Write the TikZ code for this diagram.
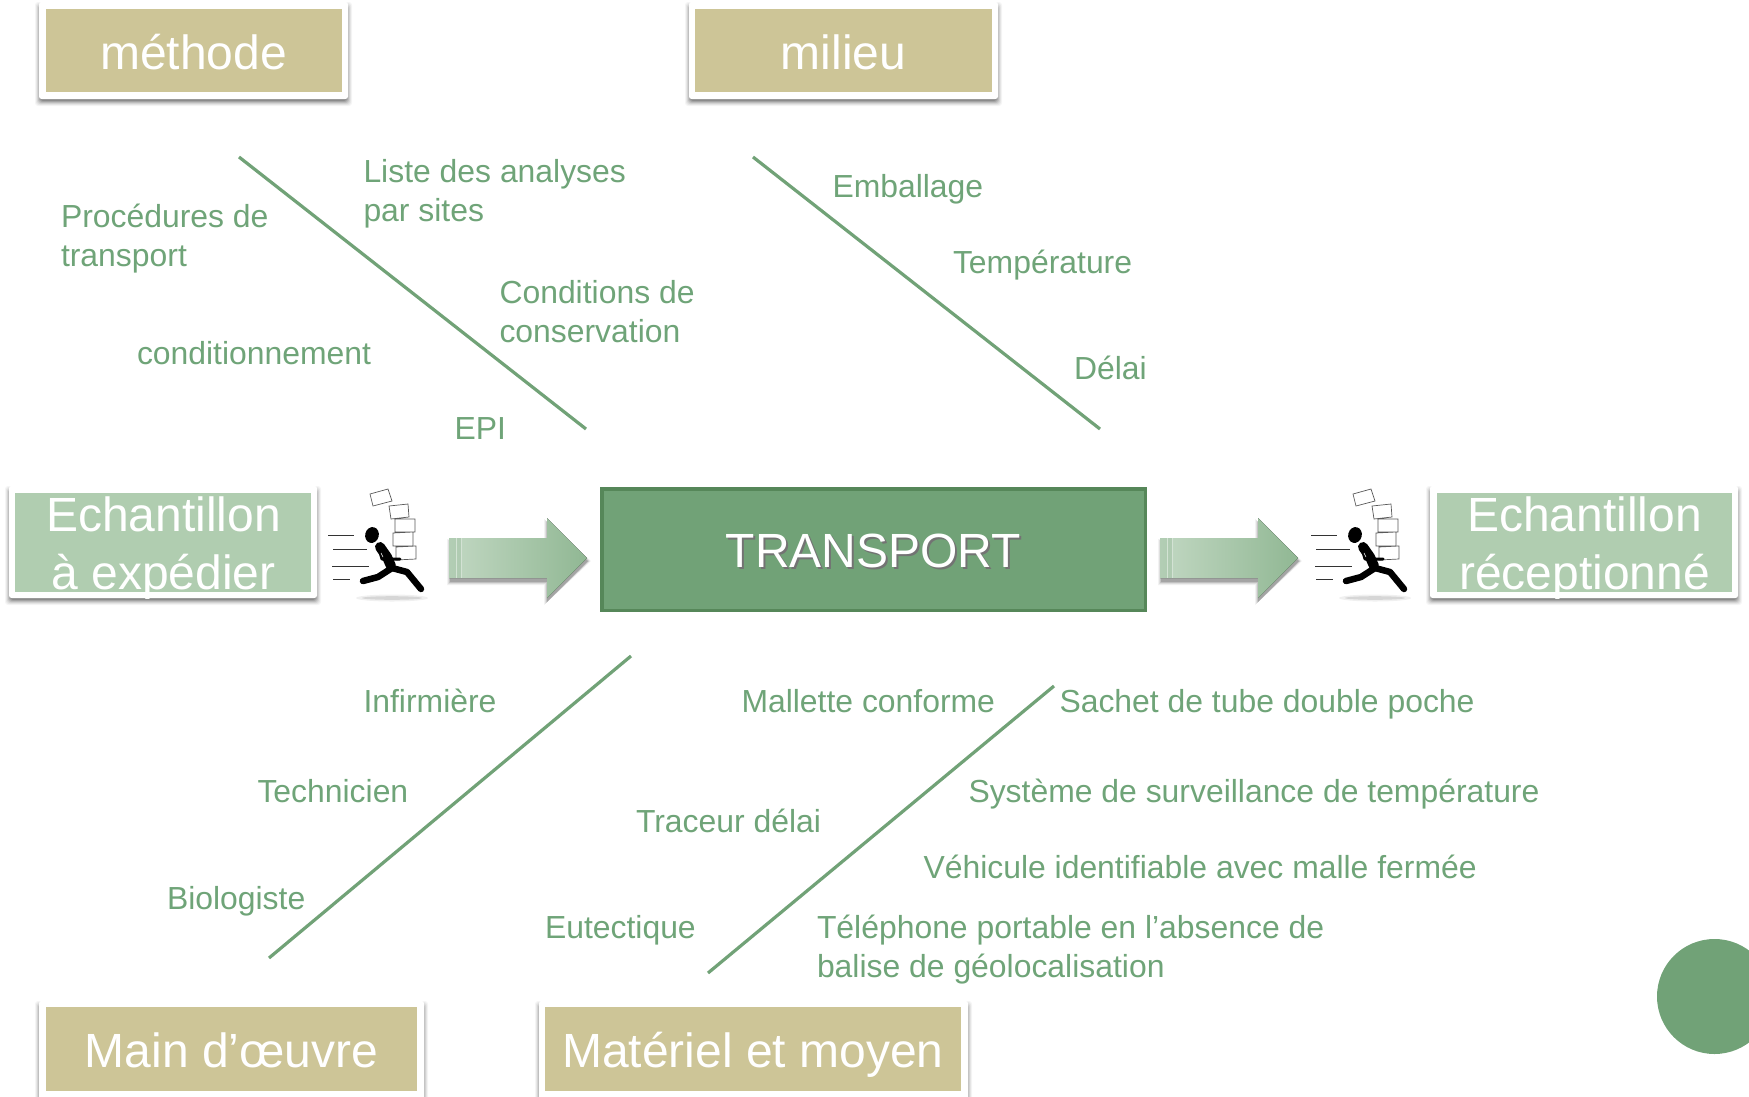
\documentclass[tikz,border=0pt]{standalone}
\usepackage{fontspec}
\setmainfont{Liberation Sans}
\definecolor{khaki}{HTML}{CDC597}
\definecolor{lgreen}{HTML}{B0CDB0}
\definecolor{mgreen}{HTML}{71A277}
\definecolor{dgreen}{HTML}{568759}
\definecolor{txtg}{HTML}{6FA478}
\newcommand\softbox[4]{%
  \foreach \d/\o in {5/.04,4/.06,3/.08,2/.1,1/.13,0/.16}{%
    \fill[black,opacity=\o,rounded corners=3pt] ({#1+1-\d},{#2+5-\d}) rectangle ({#3-1+\d},{#4+2+\d});
  }%
  \fill[white,rounded corners=2.5pt] (#1,#2) rectangle (#3,#4);
}
\tikzset{
  every node/.style={inner sep=0pt,outer sep=0pt},
  bone/.style={draw=mgreen,line width=3.2pt},
  lbl/.style={text=txtg,font=\fontsize{31.9}{39}\selectfont,anchor=base west,align=left},
  big/.style={text=white,font=\fontsize{48}{58}\selectfont,align=center},
  khakibox/.style={fill=khaki,big,text height=38pt,text depth=0pt},
  pk/.pic={
    \fill[black!6] (72,118) ellipse (36 and 3.5);
    \fill[black!16] (72,118) ellipse (30 and 1.8);
    \draw[black!65,line width=.7pt,fill=white]
      (50,14)--(68,9)--(72,21)--(53,26)--cycle
      (69,26)--(88,24)--(89,37)--(71,39)--cycle
      (75,39)--(95,39)--(95,52)--(75,52)--cycle
      (73,53)--(93,52)--(93,66)--(73,66)--cycle
      (76,67)--(96,66)--(96,79)--(76,80)--cycle;
    \draw[black!80,line width=.9pt]
      (8,55)--(34,55) (13,69)--(47,69) (12,86)--(49,86) (13,99)--(30,99);
    \fill[black,rotate around={-15:(52,55)}] (52,55) ellipse (6.8 and 8);
    \draw[black,line width=10pt,line cap=round,line join=round] (60,67)--(67,77)--(71,86);
    \draw[black,line width=6.5pt,line cap=round,line join=round]
      (72,88)--(58,97)--(43,101);
    \draw[black,line width=6.5pt,line cap=round,line join=round]
      (72,88)--(87,92)--(101,109);
    \draw[black,line width=3pt,line cap=round,line join=round] (60,72)--(62,79)--(80,79);
    \draw[white,line width=.5pt] (61,73)--(63,77);
  },
  arrowpic/.pic={
    \foreach \d/\o in {3/.05,2/.08,1/.12,0/.16}{%
      \fill[black,opacity=\o] (1-\d,24-\d)--(98-\d,24-\d)--(98-\d,4-\d)--(139+\d,43)--(98-\d,84+\d)--(98-\d,64+\d)--(1-\d,64+\d)--cycle;
    }
    \fill[left color=lgreen!60!white!85!mgreen,right color=mgreen!50!lgreen] (0,20)--(98,20)--(98,0)--(138,40)--(98,80)--(98,60)--(0,60)--cycle;
    \fill[mgreen,opacity=.18] (0,20) rectangle (13,60);
    \draw[white,opacity=.45,line width=.8pt] (7,20)--(7,60) (12,20)--(12,60);
  }
}
\begin{document}
\begin{tikzpicture}[x=1pt,y=-1pt]
\useasboundingbox (0,0) rectangle (1749,1096);
% top boxes
\softbox{39}{2}{348}{99}
\node[khakibox,minimum width=296pt,minimum height=83pt] (methode) at (193.5,50.5) {méthode};
\softbox{689}{2}{998}{99}
\node[khakibox,minimum width=297pt,minimum height=83pt] (milieu) at (843.5,50.5) {milieu};
% bottom boxes
\softbox{39}{1001}{424}{1110}
\node[khakibox,text height=36pt,minimum width=371pt,minimum height=84pt] (main) at (231.5,1049) {Main d’œuvre};
\softbox{539}{1001}{968}{1110}
\node[khakibox,text height=36pt,minimum width=416pt,minimum height=84pt] (mat) at (753,1049) {Matériel et moyen};
% side boxes
\softbox{9}{486}{317}{598}
\node[fill=lgreen,minimum width=296pt,minimum height=99pt] (expbox) at (163,542.5) {};
\node[big,anchor=base] (exp) at (163.5,589) {Echantillon\\à expédier};
\softbox{1430}{486}{1738}{598}
\node[fill=lgreen,minimum width=295pt,minimum height=99pt] (recbox) at (1584.5,542.5) {};
\node[big,anchor=base] (rec) at (1584.5,589) {Echantillon\\réceptionné};
% runners
\pic at (320,480) {pk};
\pic at (1303,480) {pk};
% arrows
\pic at (449,518) {arrowpic};
\pic at (1160,518) {arrowpic};
% centre
\node[fill=mgreen,draw=dgreen,line width=3.5pt,minimum width=543.5pt,minimum height=121.5pt] (transport) at (873.5,549.5) {};
\node[text=black!55,font=\fontsize{48}{58}\selectfont,anchor=base] at (875.5,569) {TRANSPORT};
\node[text=white,font=\fontsize{48}{58}\selectfont,anchor=base] at (873.5,567) {TRANSPORT};
% bones
\coordinate (a1) at (239,157); \coordinate (a2) at (586,429);
\coordinate (b1) at (753,157); \coordinate (b2) at (1100,429);
\coordinate (c1) at (631,656); \coordinate (c2) at (269,958);
\coordinate (d1) at (1054,686); \coordinate (d2) at (708,973);
\draw[bone] (a1)--(a2);
\draw[bone] (b1)--(b2);
\draw[bone] (c1)--(c2);
\draw[bone] (d1)--(d2);
% labels
\node[lbl] (l1) at (363.5,221) {Liste des analyses\\par sites};
\node[lbl] (l2) at (61,266.5) {Procédures de\\transport};
\node[lbl] (l3) at (499.5,342) {Conditions de\\conservation};
\node[lbl] (l4) at (137,364) {conditionnement};
\node[lbl] (l5) at (454.5,439) {EPI};
\node[lbl] (l6) at (832.5,197.5) {Emballage};
\node[lbl] (l7) at (953,273) {Température};
\node[lbl] (l8) at (1074,379) {Délai};
\node[lbl] (l9) at (363.5,712) {Infirmière};
\node[lbl] (l10) at (257.5,802) {Technicien};
\node[lbl] (l11) at (167,909) {Biologiste};
\node[lbl] (l12) at (741.5,712) {Mallette conforme};
\node[lbl] (l13) at (1059.5,712) {Sachet de tube double poche};
\node[lbl] (l14) at (968.5,802) {Système de surveillance de température};
\node[lbl] (l15) at (636,832) {Traceur délai};
\node[lbl] (l16) at (923.5,878) {Véhicule identifiable avec malle fermée};
\node[lbl] (l17) at (545,938) {Eutectique};
\node[lbl] (l18) at (817,977) {Téléphone portable en l’absence de\\balise de géolocalisation};
% circle
\fill[mgreen] (1714.5,996.5) circle (57.5);
\end{tikzpicture}
\end{document}
